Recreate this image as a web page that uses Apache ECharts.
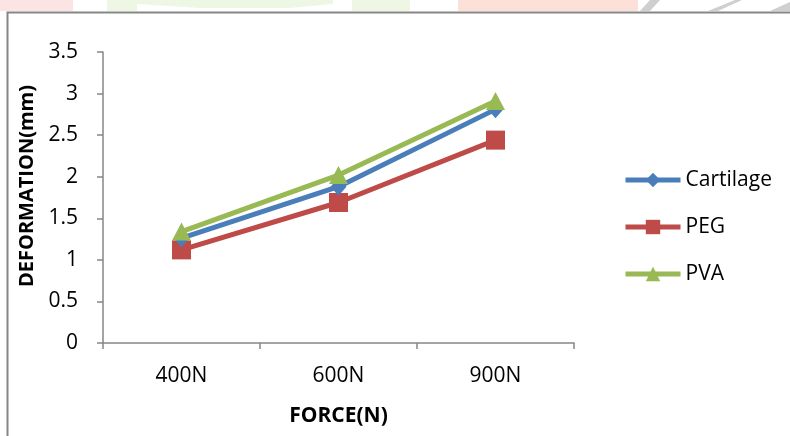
<!DOCTYPE html>
<html>
<head>
<meta charset="utf-8">
<script src="https://cdn.jsdelivr.net/npm/echarts@6/dist/echarts.min.js"></script>
<style>
html,body{margin:0;padding:0;background:#fff;}
#c{width:790px;height:436px;}
</style>
</head>
<body>
<div id="c"></div>
<script>
var categories = ['400N', '600N', '900N'];
var cartilage = [1.26, 1.88, 2.81];
var peg = [1.12, 1.69, 2.44];
var pva = [1.34, 2.02, 2.91];
var yTicks = [0, 0.5, 1, 1.5, 2, 2.5, 3, 3.5];

var FONT = '"Open Sans", sans-serif';
var FS = 21;
var chart = echarts.init(document.getElementById('c'), null, {renderer: 'canvas'});
var axisColor = '#868686';

var option = {
  animation: false,
  backgroundColor: '#fff',
  textStyle: {fontFamily: FONT},
  grid: {left: 103, right: 216, top: 52, bottom: 93},
  legend: {
    orient: 'vertical',
    left: 623,
    top: 169,
    padding: 0,
    itemWidth: 55,
    itemHeight: 18,
    itemGap: 25,
    lineStyle: {width: 5},
    textStyle: {fontSize: FS, color: '#000', fontFamily: FONT, lineHeight: 22, padding: [0, 0, 0, 0]},
    data: ['Cartilage', 'PEG', 'PVA']
  },
  graphic: [
    {type: 'rect', shape: {x: 0, y: 0, width: 73, height: 11}, style: {fill: '#fde4e4'}, silent: true},
    {type: 'rect', shape: {x: 107, y: 0, width: 30, height: 11}, style: {fill: '#eef7e3'}, silent: true},
    {type: 'polygon', shape: {points: [[137, 0], [333, 0], [333, 4], [290, 8], [200, 8], [137, 4]]}, style: {fill: '#eef7e3'}, silent: true},
    {type: 'rect', shape: {x: 352, y: 0, width: 58, height: 11}, style: {fill: '#eef7e3'}, silent: true},
    {type: 'rect', shape: {x: 458, y: 0, width: 180, height: 11}, style: {fill: '#fde0d8'}, silent: true},
    {type: 'polygon', shape: {points: [[640, 11], [650, 0], [660, 0], [650, 11]]}, style: {fill: '#cfcfcf'}, silent: true},
    {type: 'polygon', shape: {points: [[708, 11], [735, 0], [742, 0], [718, 11]]}, style: {fill: '#cfcfcf'}, silent: true},
    {type: 'polygon', shape: {points: [[770, 11], [790, 2], [790, 11]]}, style: {fill: '#cfcfcf'}, silent: true},
    {type: 'polyline', shape: {points: [[7.5, 440], [7.5, 12.5], [795, 12.5]]}, style: {stroke: axisColor, lineWidth: 2, fill: null}, silent: true},
    {type: 'text', x: 27, y: 186, rotation: Math.PI / 2,
      style: {text: 'DEFORMATION(mm)', font: 'bold 20px ' + FONT, fill: '#000', align: 'center', verticalAlign: 'middle'}, silent: true}
  ],
  xAxis: {
    type: 'category',
    data: categories,
    boundaryGap: true,
    name: 'FORCE(N)',
    nameLocation: 'middle',
    nameGap: 63,
    nameTextStyle: {fontSize: FS, fontWeight: 'bold', color: '#000', fontFamily: FONT},
    axisLine: {lineStyle: {color: axisColor, width: 1.5}},
    axisTick: {show: true, length: 6, lineStyle: {color: axisColor, width: 1.5}},
    axisLabel: {fontSize: FS, color: '#000', margin: 23, fontFamily: FONT},
    splitLine: {show: false}
  },
  yAxis: {
    type: 'value',
    min: 0,
    max: 3.5,
    interval: 0.5,
    axisLine: {show: true, lineStyle: {color: axisColor, width: 1.5}},
    axisTick: {show: true, length: 6, lineStyle: {color: axisColor, width: 1.5}},
    axisLabel: {fontSize: FS, color: '#000', margin: 25, fontFamily: FONT,
      formatter: function (v) { return yTicks.indexOf(v) >= 0 ? String(v) : ''; }},
    splitLine: {show: false}
  },
  series: [
    {
      name: 'Cartilage', type: 'line', data: cartilage,
      symbol: 'diamond', symbolSize: [16, 18],
      lineStyle: {color: '#4A7EBB', width: 5},
      itemStyle: {color: '#4A7EBB'}, z: 3
    },
    {
      name: 'PEG', type: 'line', data: peg,
      symbol: 'rect', symbolSize: 19,
      lineStyle: {color: '#BE4B48', width: 5},
      itemStyle: {color: '#BE4B48'}, z: 2
    },
    {
      name: 'PVA', type: 'line', data: pva,
      symbol: 'triangle', symbolSize: [19, 18],
      lineStyle: {color: '#98B954', width: 5},
      itemStyle: {color: '#98B954'}, z: 4
    }
  ]
};
chart.setOption(option);
</script>
</body>
</html>
